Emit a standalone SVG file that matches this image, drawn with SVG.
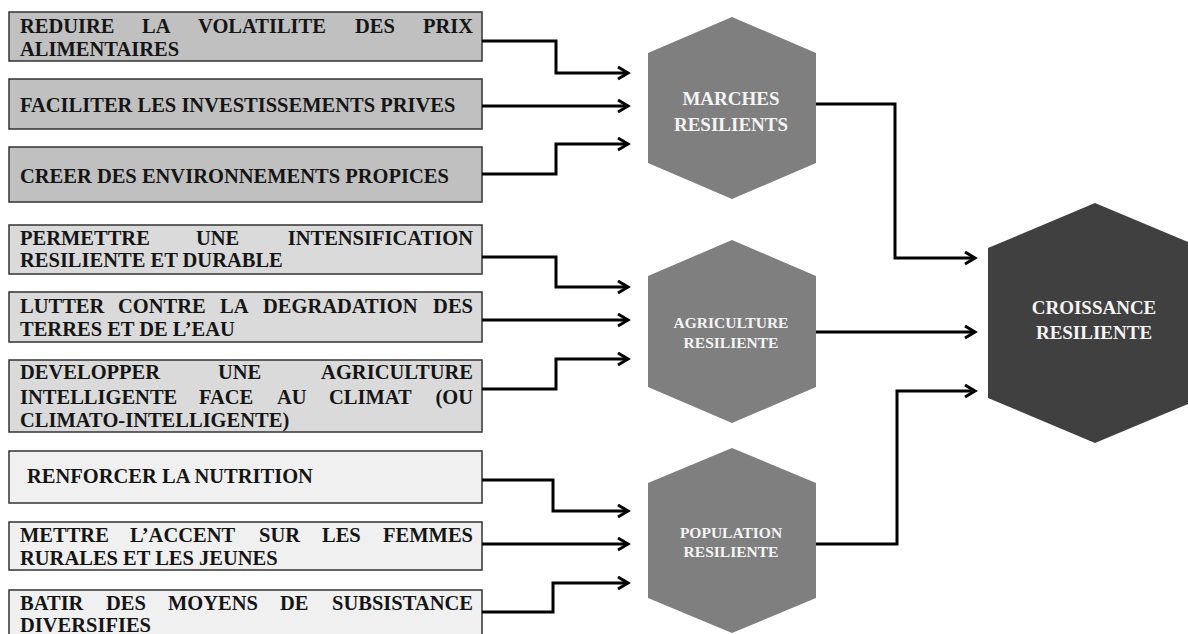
<svg xmlns="http://www.w3.org/2000/svg" width="1188" height="634" viewBox="0 0 1188 634">
<style>
.box{stroke:#333;stroke-width:1.5}
.g1{fill:#c0c0c0}.g2{fill:#dadada}.g3{fill:#f0f0f0}
.t{font-family:"Liberation Serif","Times New Roman",serif;font-weight:bold;font-size:20.5px;fill:#151515}
.e{text-anchor:end}
.hx{fill:#7f7f7f}.hd{fill:#404040}
.ht{font-family:"Liberation Serif","Times New Roman",serif;font-weight:bold;fill:#f4f4f4;text-anchor:middle}
.c{fill:none;stroke:#000;stroke-width:3;marker-end:url(#ah)}
</style>
<defs>
<marker id="ah" markerUnits="userSpaceOnUse" markerWidth="14" markerHeight="16" refX="11" refY="7" orient="auto">
<path d="M1,1 L11,7 L1,13" fill="none" stroke="#000" stroke-width="3" stroke-linejoin="miter"/>
</marker>
</defs>
<rect width="1188" height="634" fill="#fff"/>

<g id="b1"><rect class="box g1" x="9" y="12" width="473" height="49"/>
<text class="t"><tspan x="20" y="33">REDUIRE</tspan><tspan x="142" y="33">LA</tspan><tspan x="198" y="33">VOLATILITE</tspan><tspan x="355" y="33">DES</tspan><tspan class="e" x="473" y="33">PRIX</tspan><tspan x="20" y="56">ALIMENTAIRES</tspan></text></g>
<g id="b2"><rect class="box g1" x="9" y="79" width="473" height="50"/>
<text class="t" x="20" y="112">FACILITER LES INVESTISSEMENTS PRIVES</text></g>
<g id="b3"><rect class="box g1" x="9" y="147" width="473" height="55"/>
<text class="t" x="20" y="183">CREER DES ENVIRONNEMENTS PROPICES</text></g>

<g id="b4"><rect class="box g2" x="9" y="225" width="473" height="49"/>
<text class="t"><tspan x="20" y="245">PERMETTRE</tspan><tspan x="196" y="245">UNE</tspan><tspan class="e" x="473" y="245">INTENSIFICATION</tspan><tspan x="20" y="267">RESILIENTE ET DURABLE</tspan></text></g>
<g id="b5"><rect class="box g2" x="9" y="292" width="473" height="50"/>
<text class="t"><tspan x="20" y="313">LUTTER</tspan><tspan x="118" y="313">CONTRE</tspan><tspan x="220" y="313">LA</tspan><tspan x="263" y="313">DEGRADATION</tspan><tspan class="e" x="473" y="313">DES</tspan><tspan x="20" y="336">TERRES ET DE L’EAU</tspan></text></g>
<g id="b6"><rect class="box g2" x="9" y="360" width="473" height="72"/>
<text class="t"><tspan x="20" y="379">DEVELOPPER</tspan><tspan x="218" y="379">UNE</tspan><tspan class="e" x="473" y="379">AGRICULTURE</tspan><tspan x="20" y="404">INTELLIGENTE</tspan><tspan x="199" y="404">FACE</tspan><tspan x="277" y="404">AU</tspan><tspan x="329" y="404">CLIMAT</tspan><tspan class="e" x="473" y="404">(OU</tspan><tspan x="20" y="427">CLIMATO-INTELLIGENTE)</tspan></text></g>

<g id="b7"><rect class="box g3" x="9" y="451" width="473" height="52"/>
<text class="t" x="27" y="483">RENFORCER LA NUTRITION</text></g>
<g id="b8"><rect class="box g3" x="9" y="522" width="473" height="48"/>
<text class="t"><tspan x="20" y="542">METTRE</tspan><tspan x="130" y="542">L’ACCENT</tspan><tspan x="259" y="542">SUR</tspan><tspan x="322" y="542">LES</tspan><tspan class="e" x="473" y="542">FEMMES</tspan><tspan x="20" y="565">RURALES ET LES JEUNES</tspan></text></g>
<g id="b9"><rect class="box g3" x="9" y="590" width="473" height="60"/>
<text class="t"><tspan x="20" y="610">BATIR</tspan><tspan x="106" y="610">DES</tspan><tspan x="168" y="610">MOYENS</tspan><tspan x="280" y="610">DE</tspan><tspan class="e" x="473" y="610">SUBSISTANCE</tspan><tspan x="20" y="632">DIVERSIFIES</tspan></text></g>

<g id="h-marches"><polygon class="hx" points="732,17 816,53 816,163 732,199 648,163 648,53"/>
<text class="ht" font-size="19"><tspan x="731" y="105">MARCHES</tspan><tspan x="731" y="131">RESILIENTS</tspan></text></g>
<g id="h-agri"><polygon class="hx" points="732,240 816,276 816,387 732,423 648,387 648,276"/>
<text class="ht" font-size="15.5"><tspan x="731" y="328">AGRICULTURE</tspan><tspan x="731" y="348">RESILIENTE</tspan></text></g>
<g id="h-pop"><polygon class="hx" points="732,448 816,483 816,598 732,633 648,598 648,483"/>
<text class="ht" font-size="15.5"><tspan x="731" y="538">POPULATION</tspan><tspan x="731" y="557">RESILIENTE</tspan></text></g>
<g id="h-croissance"><polygon class="hd" points="1095,203 1202,248 1202,398 1095,443 988,398 988,248"/>
<text class="ht" font-size="19"><tspan x="1094" y="314">CROISSANCE</tspan><tspan x="1094" y="339">RESILIENTE</tspan></text></g>

<g id="connectors">
<path class="c" d="M482,41 H556 V73 H628"/>
<path class="c" d="M482,106 H628"/>
<path class="c" d="M482,174 H556 V144 H628"/>
<path class="c" d="M482,257 H556 V287 H628"/>
<path class="c" d="M482,320 H628"/>
<path class="c" d="M482,389 H556 V359 H628"/>
<path class="c" d="M482,480 H553 V511 H628"/>
<path class="c" d="M482,544 H628"/>
<path class="c" d="M482,612 H553 V583 H628"/>
<path class="c" d="M816,104 H895 V258 H975"/>
<path class="c" d="M816,332 H975"/>
<path class="c" d="M816,544 H897 V391 H975"/>
</g>
</svg>
